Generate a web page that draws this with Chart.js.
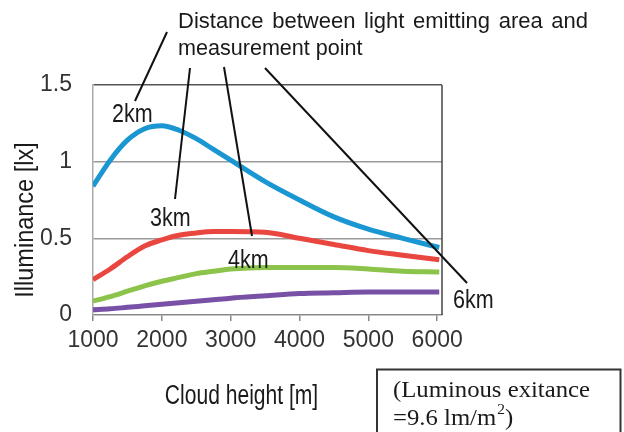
<!DOCTYPE html>
<html>
<head>
<meta charset="utf-8">
<script src="https://cdn.jsdelivr.net/npm/chart.js@4.4.1/dist/chart.umd.min.js"></script>
<style>
  html, body { margin: 0; padding: 0; background: #fff; }
  #wrap { width: 624px; height: 432px; position: relative; }
</style>
</head>
<body>
<div id="wrap"><canvas id="c" width="624" height="432"></canvas></div>
<script>
// Cloud height [m] at which illuminance was evaluated
const cloudHeights = [1000, 1250, 1500, 1750, 2000, 2250, 2500, 2750, 3000, 3500, 4000, 4500, 5000, 5500, 6030];

// Illuminance [lx] per distance between light emitting area and measurement point
const illum2km = [0.84, 1.01, 1.14, 1.215, 1.235, 1.205, 1.15, 1.08, 1.01, 0.87, 0.75, 0.64, 0.56, 0.50, 0.44];
const illum3km = [0.23, 0.30, 0.38, 0.45, 0.49, 0.52, 0.535, 0.545, 0.545, 0.54, 0.50, 0.46, 0.42, 0.39, 0.36];
const illum4km = [0.09, 0.12, 0.155, 0.19, 0.22, 0.245, 0.27, 0.285, 0.30, 0.31, 0.31, 0.31, 0.30, 0.285, 0.28];
const illum6km = [0.035, 0.04, 0.05, 0.06, 0.07, 0.08, 0.09, 0.10, 0.11, 0.125, 0.14, 0.145, 0.15, 0.15, 0.15];

const seriesNames = ['2km', '3km', '4km', '6km'];
const seriesColors = ['#1a96d3', '#e8463f', '#8cc34b', '#7851a6'];

const xTickValues = [1000, 2000, 3000, 4000, 5000, 6000];
const xTickLabels = ['1000', '2000', '3000', '4000', '5000', '6000'];
const yTickValues = [0, 0.5, 1, 1.5];
const yTickLabels = ['0', '0.5', '1', '1.5'];

const titleLines = ['Distance between light emitting area and', 'measurement point'];
const xTitle = 'Cloud height [m]';
const yTitle = 'Illuminance [lx]';
const noteLines = ['(Luminous exitance', '=9.6 lm/m', '2', ')'];

const toPoints = ys => cloudHeights.map((x, i) => ({ x, y: ys[i] }));
const allSeries = [illum2km, illum3km, illum4km, illum6km];

const SANS = '"Liberation Sans", Arial, Helvetica, sans-serif';
const SERIF = '"Liberation Serif", "Times New Roman", serif';

// draw text with a horizontal squeeze
function squeezed(ctx, s, x, y, font, sx, align) {
  ctx.save();
  ctx.translate(x, y);
  ctx.scale(sx, 1);
  ctx.font = font;
  ctx.textAlign = align || 'left';
  ctx.textBaseline = 'alphabetic';
  ctx.fillText(s, 0, 0);
  ctx.restore();
}

const decorations = {
  id: 'decorations',
  afterDraw(chart) {
    const ctx = chart.ctx;
    const a = chart.chartArea;
    ctx.save();

    // right frame of the plot area
    ctx.strokeStyle = '#444';
    ctx.lineWidth = 1.5;
    ctx.beginPath();
    ctx.moveTo(a.right, a.top);
    ctx.lineTo(a.right, a.bottom);
    ctx.stroke();

    // leader lines from the heading to each curve label
    ctx.strokeStyle = '#111';
    ctx.lineWidth = 2;
    const leaders = [
      [167, 32, 135, 101],
      [190, 68, 175, 199],
      [224, 67, 252, 236],
      [265, 68, 467, 283]
    ];
    leaders.forEach(([x1, y1, x2, y2]) => {
      ctx.beginPath();
      ctx.moveTo(x1, y1);
      ctx.lineTo(x2, y2);
      ctx.stroke();
    });

    ctx.fillStyle = '#1a1a1a';

    // heading, first line stretched to its full justified width
    ctx.font = '22px ' + SANS;
    ctx.textAlign = 'left';
    ctx.textBaseline = 'alphabetic';
    const w0 = ctx.measureText(titleLines[0]).width;
    const gaps = titleLines[0].split(' ').length - 1;
    ctx.wordSpacing = ((410 - w0) / gaps) + 'px';
    ctx.fillText(titleLines[0], 178, 28);
    ctx.wordSpacing = '0px';
    squeezed(ctx, titleLines[1], 178, 55, '22px ' + SANS, 0.98);

    // curve labels
    const lblFont = '25px ' + SANS;
    squeezed(ctx, seriesNames[0], 112, 122, lblFont, 0.86);
    squeezed(ctx, seriesNames[1], 150, 226, lblFont, 0.86);
    squeezed(ctx, seriesNames[2], 228, 268, lblFont, 0.86);
    squeezed(ctx, seriesNames[3], 453, 308, lblFont, 0.86);

    // axis titles
    squeezed(ctx, xTitle, 241.5, 404, '27px ' + SANS, 0.78, 'center');
    ctx.save();
    ctx.translate(33, 220);
    ctx.rotate(-Math.PI / 2);
    squeezed(ctx, yTitle, 0, 0, '25px ' + SANS, 0.94, 'center');
    ctx.restore();

    // luminous exitance note
    ctx.strokeStyle = '#333';
    ctx.lineWidth = 2;
    ctx.beginPath();
    ctx.moveTo(377, 440);
    ctx.lineTo(377, 369.5);
    ctx.lineTo(620.5, 369.5);
    ctx.lineTo(620.5, 440);
    ctx.stroke();

    ctx.fillStyle = '#1a1a1a';
    ctx.font = '24px ' + SERIF;
    ctx.textAlign = 'left';
    const sx = 197 / ctx.measureText(noteLines[0]).width;
    ctx.save();
    ctx.translate(393, 0);
    ctx.scale(sx, 1);
    ctx.fillText(noteLines[0], 0, 397);
    ctx.fillText(noteLines[1], 0, 425);
    let x = ctx.measureText(noteLines[1]).width;
    ctx.font = '15px ' + SERIF;
    ctx.fillText(noteLines[2], x + 1, 414);
    x += 1 + ctx.measureText(noteLines[2]).width;
    ctx.font = '24px ' + SERIF;
    ctx.fillText(noteLines[3], x, 425);
    ctx.restore();

    ctx.restore();
  }
};

new Chart(document.getElementById('c'), {
  type: 'line',
  data: {
    datasets: allSeries.map((ys, i) => ({
      label: seriesNames[i],
      data: toPoints(ys),
      borderColor: seriesColors[i],
      backgroundColor: seriesColors[i],
      borderWidth: 5,
      pointRadius: 0,
      tension: 0.4,
      cubicInterpolationMode: 'monotone',
      fill: false,
      order: i
    })).reverse()
  },
  options: {
    responsive: false,
    devicePixelRatio: 1,
    animation: false,
    layout: { padding: { left: 0, top: 85, right: 182, bottom: 0 } },
    plugins: { legend: { display: false }, tooltip: { enabled: false } },
    scales: {
      x: {
        type: 'linear',
        min: 1000,
        max: 6070,
        afterFit: s => { s.height = 117; },
        afterBuildTicks: s => { s.ticks = xTickValues.map(v => ({ value: v })); },
        border: { color: '#888', width: 1.5 },
        grid: { drawOnChartArea: false, drawTicks: true, tickLength: 6, color: '#888', lineWidth: 1.5 },
        ticks: {
          maxRotation: 0,
          autoSkip: false,
          padding: 6,
          color: '#333',
          font: { family: SANS, size: 23 },
          callback: v => xTickLabels[xTickValues.indexOf(v)] ?? ''
        }
      },
      y: {
        min: 0,
        max: 1.5,
        afterFit: s => { s.width = 93; },
        afterBuildTicks: s => { s.ticks = yTickValues.map(v => ({ value: v })); },
        border: { color: '#aaa', width: 1.5 },
        grid: {
          drawTicks: false,
          lineWidth: 1.5,
          color: c => c.tick && c.tick.value === 1.5 ? '#555' : (c.tick && c.tick.value === 0 ? 'rgba(0,0,0,0)' : '#9a9a9a')
        },
        ticks: {
          padding: 21,
          color: '#333',
          font: { family: SANS, size: 23 },
          callback: v => yTickLabels[yTickValues.indexOf(v)] ?? ''
        }
      }
    }
  },
  plugins: [decorations]
});
</script>
</body>
</html>
